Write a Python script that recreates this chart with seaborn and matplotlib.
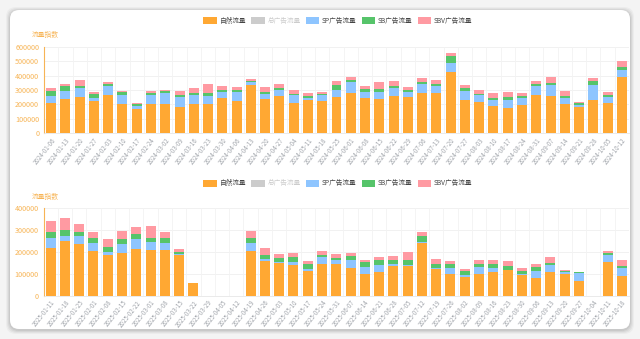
import numpy as np
import pandas as pd
import matplotlib
matplotlib.use("Agg")
import matplotlib.pyplot as plt
import seaborn as sns
from matplotlib.patches import FancyBboxPatch, Patch
from matplotlib.transforms import IdentityTransform

sns.set_theme(style="white")
plt.rcParams["font.family"] = ["Noto Sans CJK SC", "DejaVu Sans"]

# ---- data -------------------------------------------------------------
weeks_2024 = [
    "2024-01-06", "2024-01-13", "2024-01-20", "2024-01-27", "2024-02-03", "2024-02-10",
    "2024-02-17", "2024-02-24", "2024-03-02", "2024-03-09", "2024-03-16", "2024-03-23",
    "2024-03-30", "2024-04-06", "2024-04-13", "2024-04-20", "2024-04-27", "2024-05-04",
    "2024-05-11", "2024-05-18", "2024-05-25", "2024-06-01", "2024-06-08", "2024-06-15",
    "2024-06-22", "2024-06-29", "2024-07-06", "2024-07-13", "2024-07-20", "2024-07-27",
    "2024-08-03", "2024-08-10", "2024-08-17", "2024-08-24", "2024-08-31", "2024-09-07",
    "2024-09-14", "2024-09-21", "2024-09-28", "2024-10-05", "2024-10-12",
]
natural_2024 = [210000, 240000, 253000, 224000, 267000, 205000, 167000, 205000, 205000, 185000,
                203000, 203000, 242000, 225000, 335000, 238000, 259000, 210000, 230000, 224000,
                251000, 276000, 246000, 235000, 260000, 249000, 276000, 281000, 424000, 230000,
                217000, 192000, 176000, 196000, 262000, 260000, 205000, 180000, 233000, 212000,
                390000]
sp_2024 = [45000, 54000, 62000, 22000, 59000, 60000, 25000, 60000, 71000, 68000,
           62000, 57000, 45000, 63000, 17000, 34000, 44000, 52000, 18000, 38000,
           48000, 80000, 41000, 52000, 55000, 34000, 68000, 47000, 64000, 62000,
           45000, 36000, 54000, 48000, 64000, 73000, 39000, 16000, 105000, 39000,
           46000]
sb_2024 = [37000, 34000, 13000, 25000, 14000, 18000, 9000, 16000, 14000, 12000,
           16000, 21000, 16000, 12000, 7000, 11000, 12000, 13000, 13000, 12000,
           39000, 14000, 21000, 21000, 13000, 16000, 12000, 16000, 48000, 20000,
           12000, 16000, 21000, 14000, 14000, 14000, 14000, 16000, 22000, 11000,
           22000]
sbv_2024 = [25000, 12000, 38000, 12000, 12000, 11000, 6000, 11000, 11000, 29000,
            34000, 61000, 25000, 18000, 14000, 39000, 25000, 28000, 19000, 9000,
            25000, 20000, 23000, 46000, 32000, 25000, 27000, 28000, 21000, 21000,
            29000, 37000, 32000, 23000, 20000, 41000, 34000, 7000, 21000, 23000,
            42000]

weeks_2025 = [
    "2025-01-11", "2025-01-18", "2025-01-25", "2025-02-01", "2025-02-08", "2025-02-15",
    "2025-02-22", "2025-03-01", "2025-03-08", "2025-03-15", "2025-03-22", "2025-03-29",
    "2025-04-05", "2025-04-12", "2025-04-19", "2025-04-26", "2025-05-03", "2025-05-10",
    "2025-05-17", "2025-05-24", "2025-05-31", "2025-06-07", "2025-06-14", "2025-06-21",
    "2025-06-28", "2025-07-05", "2025-07-12", "2025-07-19", "2025-07-26", "2025-08-02",
    "2025-08-09", "2025-08-16", "2025-08-23", "2025-08-30", "2025-09-06", "2025-09-13",
    "2025-09-20", "2025-09-27", "2025-10-04", "2025-10-11", "2025-10-18",
]
natural_2025 = [221000, 249000, 236000, 205000, 186000, 195000, 213000, 211000, 210000, 186000,
                58000, 0, 0, 0, 205000, 160000, 151000, 143000, 116000, 148000,
                148000, 129000, 102000, 110000, 138000, 135000, 240000, 123000, 102000, 87000,
                100000, 111000, 117000, 94000, 81000, 110000, 99000, 68000, 0, 154000,
                93000]
sp_2025 = [42000, 26000, 38000, 35000, 13000, 44000, 46000, 35000, 32000, 7000,
           0, 0, 0, 0, 35000, 7000, 4000, 14000, 9000, 30000,
           16000, 35000, 29000, 30000, 6000, 8000, 6000, 5000, 24000, 9000,
           32000, 17000, 3000, 6000, 35000, 31000, 12000, 35000, 0, 33000,
           35000]
sb_2025 = [29000, 28000, 20000, 23000, 23000, 20000, 24000, 20000, 23000, 9000,
           1000, 0, 0, 0, 23000, 19000, 18000, 19000, 19000, 8000,
           9000, 19000, 23000, 23000, 20000, 21000, 28000, 19000, 18000, 17000,
           14000, 20000, 18000, 13000, 16000, 10000, 3000, 5000, 0, 11000,
           9000]
sbv_2025 = [52000, 51000, 36000, 29000, 38000, 36000, 33000, 52000, 29000, 12000,
            2000, 0, 0, 0, 32000, 33000, 19000, 20000, 17000, 21000,
            17000, 13000, 9000, 13000, 17000, 38000, 20000, 20000, 16000, 9000,
            17000, 15000, 22000, 13000, 12000, 25000, 5000, 2000, 0, 9000,
            27000]

series_names = ["自然流量", "总广告流量", "SP广告流量", "SB广告流量", "SBV广告流量"]
series_colors = ["#FFA833", "#CCCCCC", "#8EC5FF", "#56C46A", "#FF9AA2"]

AXIS_ORANGE = "#F7B455"
LABEL_GRAY = "#A0A4AA"

# ---- figure & card ----------------------------------------------------
W, H = 640, 339
fig = plt.figure(figsize=(W / 100, H / 100), dpi=100)
fig.patch.set_facecolor("#F4F4F4")

ident = IdentityTransform()
# soft shadow under the card
for i, a in enumerate([0.03, 0.04, 0.05, 0.06]):
    pad = 4 - i
    fig.patches.append(FancyBboxPatch(
        (10 - pad, 10 - pad - 1), 620 + 2 * pad, 319 + 2 * pad,
        boxstyle="round,pad=0,rounding_size=10", transform=ident,
        facecolor="#000000", alpha=a, edgecolor="none", zorder=-20))
fig.patches.append(FancyBboxPatch(
    (10, 10), 620, 319, boxstyle="round,pad=0,rounding_size=9", transform=ident,
    facecolor="white", edgecolor="none", zorder=-10))


def px_axes(left, top, right, bottom):
    return fig.add_axes([left / W, 1 - bottom / H, (right - left) / W, (bottom - top) / H])


def draw_panel(ax, weeks, natural, sp, sb, sbv, ymax):
    df = pd.DataFrame({"week": weeks, "natural": natural, "sp": sp, "sb": sb, "sbv": sbv})
    df["lvl_sp"] = df["natural"] + df["sp"]
    df["lvl_sb"] = df["lvl_sp"] + df["sb"]
    df["lvl_sbv"] = df["lvl_sb"] + df["sbv"]
    # stacked look: tallest cumulative level drawn first, smaller ones on top
    for col, color in [("lvl_sbv", series_colors[4]), ("lvl_sb", series_colors[3]),
                       ("lvl_sp", series_colors[2]), ("natural", series_colors[0])]:
        sns.barplot(data=df, x="week", y=col, color=color, width=0.7,
                    saturation=1, ax=ax, zorder=3, linewidth=0)
    ax.set_facecolor("none")
    ax.set_xlim(-0.5, len(weeks) - 0.5)
    ax.set_ylim(0, ymax)
    ax.set_yticks(np.arange(0, ymax + 1, 100000))
    ax.set_yticklabels([f"{int(v)}" for v in np.arange(0, ymax + 1, 100000)])
    ax.set_xlabel("")
    ax.set_ylabel("")
    # grid: horizontal at ticks, vertical at category boundaries
    for yv in np.arange(100000, ymax + 1, 100000):
        ax.axhline(yv, color="#EFEFEF", lw=0.6, zorder=1)
    for xv in np.arange(0.5, len(weeks) - 0.5, 1):
        ax.axvline(xv, color="#F3F3F3", lw=0.6, zorder=1)
    ax.axvline(len(weeks) - 0.5, color="#F3F3F3", lw=0.6, zorder=1)
    for s in ["top", "right"]:
        ax.spines[s].set_visible(False)
    ax.spines["left"].set_color(AXIS_ORANGE)
    ax.spines["left"].set_linewidth(0.8)
    ax.spines["bottom"].set_color("#E6E6E6")
    ax.spines["bottom"].set_linewidth(0.6)
    ax.tick_params(axis="y", colors=AXIS_ORANGE, labelsize=5.2, length=2.5, width=0.6, pad=1,
                   labelcolor=AXIS_ORANGE)
    ax.tick_params(axis="x", length=0, labelsize=4.4, labelcolor=LABEL_GRAY, pad=2)
    for lab in ax.get_xticklabels():
        lab.set_rotation(52)
        lab.set_ha("right")
        lab.set_rotation_mode("anchor")


def draw_legend(y_px):
    handles = [Patch(facecolor=c, edgecolor="none") for c in series_colors]
    leg = fig.legend(handles, series_names, loc="center", bbox_to_anchor=(338 / W, 1 - y_px / H),
                     ncol=5, frameon=False, fontsize=4.8, handlelength=2.0, handleheight=1.2,
                     handletextpad=0.45, columnspacing=0.75, borderaxespad=0)
    for i, t in enumerate(leg.get_texts()):
        t.set_color("#CCCCCC" if i == 1 else "#444444")
    return leg


# ---- top panel (2024) -------------------------------------------------
ax1 = px_axes(44, 46.7, 629, 133.3)
draw_panel(ax1, weeks_2024, natural_2024, sp_2024, sb_2024, sbv_2024, 600000)
draw_legend(21)
fig.text(32 / W, 1 - 35 / H, "流量指数", color=AXIS_ORANGE, fontsize=4.9, va="center", ha="left")

# ---- bottom panel (2025) ----------------------------------------------
ax2 = px_axes(43.5, 208.3, 629, 296)
draw_panel(ax2, weeks_2025, natural_2025, sp_2025, sb_2025, sbv_2025, 400000)
draw_legend(183.5)
fig.text(32 / W, 1 - 197 / H, "流量指数", color=AXIS_ORANGE, fontsize=4.9, va="center", ha="left")

fig.savefig("out.png", dpi=100, facecolor=fig.get_facecolor())
